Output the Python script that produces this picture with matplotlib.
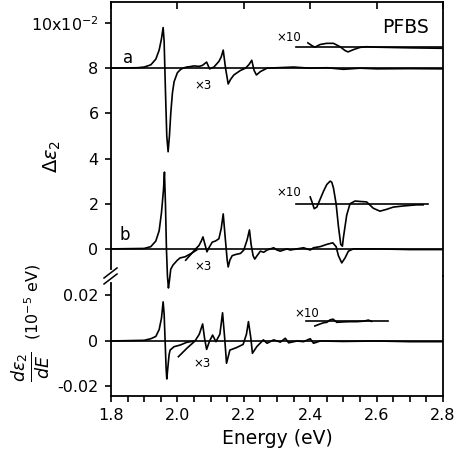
import matplotlib.pyplot as plt
from matplotlib.lines import Line2D
from matplotlib.ticker import MultipleLocator

plt.rcParams['font.family'] = ['DejaVu Sans']
plt.rcParams['mathtext.fontset'] = 'dejavusans'

# --- data (axis units) ---
# curve a (offset 8), x1
a_E = [1.80, 1.88, 1.90, 1.92, 1.935, 1.945, 1.952, 1.957, 1.960, 1.964, 1.968, 1.972,
       1.976, 1.980, 1.985, 1.990, 2.000, 2.010, 2.020, 2.030]
a_v = [8.0, 8.02, 8.05, 8.15, 8.4, 8.8, 9.3, 9.8, 9.2, 7.0, 5.0, 4.3,
       5.0, 6.0, 6.9, 7.4, 7.8, 7.95, 8.02, 8.05]
# curve a, x3
a3_E = [2.030, 2.050, 2.065, 2.075, 2.082, 2.088, 2.093, 2.097, 2.110, 2.125, 2.132, 2.138,
        2.145, 2.153, 2.160, 2.170, 2.190, 2.205, 2.215, 2.224, 2.231, 2.238, 2.250, 2.270,
        2.300, 2.350, 2.400, 2.450, 2.500, 2.550, 2.600, 2.700, 2.800]
a3_v = [8.05, 8.1, 8.08, 8.12, 8.2, 8.27, 8.1, 7.97, 8.05, 8.3, 8.5, 8.8,
        8.0, 7.3, 7.5, 7.7, 7.9, 8.0, 8.15, 8.35, 7.9, 7.7, 7.85, 8.0,
        8.02, 8.05, 8.0, 8.02, 7.95, 8.0, 7.97, 7.98, 7.97]
# curve a, x10
a10_E = [2.393, 2.405, 2.414, 2.430, 2.450, 2.470, 2.490, 2.505, 2.514, 2.530, 2.550,
         2.570, 2.600, 2.700, 2.800]
a10_v = [9.12, 9.0, 8.93, 9.05, 9.1, 9.1, 8.95, 8.78, 8.72, 8.82, 8.92,
         8.95, 8.93, 8.9, 8.88]

# curve b (offset 0), x1
b_E = [1.80, 1.90, 1.92, 1.935, 1.945, 1.952, 1.958, 1.961, 1.964, 1.967, 1.970, 1.973,
       1.976, 1.980, 1.987, 2.000, 2.008, 2.023, 2.043, 2.058]
b_v = [0.0, 0.02, 0.1, 0.35, 0.8, 1.6, 2.6, 3.4, 2.0, 0.0, -1.2, -1.73,
       -1.4, -0.9, -0.71, -0.5, -0.4, -0.35, -0.19, -0.05]
# curve b, x3
b3_E = [2.025, 2.040, 2.055, 2.065, 2.072, 2.077, 2.083, 2.089, 2.095, 2.105, 2.115, 2.125,
        2.132, 2.138, 2.144, 2.150, 2.153, 2.158, 2.165, 2.175, 2.190, 2.200, 2.210, 2.217,
        2.222, 2.228, 2.233, 2.240, 2.250, 2.260, 2.270, 2.280, 2.290, 2.300, 2.310, 2.320,
        2.330, 2.340, 2.360, 2.380, 2.390, 2.400, 2.410, 2.430, 2.450, 2.468, 2.478, 2.485,
        2.495, 2.505, 2.515, 2.530, 2.600, 2.700, 2.800]
b3_v = [-0.5, -0.25, 0.0, 0.15, 0.35, 0.53, 0.2, -0.13, 0.05, 0.3, 0.35, 0.45,
        0.9, 1.55, 0.5, -0.5, -0.8, -0.5, -0.3, -0.25, -0.2, -0.05, 0.4, 0.84,
        0.2, -0.3, -0.45, -0.3, -0.1, -0.15, -0.05, 0.0, 0.05, -0.05, -0.1, -0.05,
        0.0, -0.05, 0.0, 0.05, 0.0, -0.05, 0.05, 0.1, 0.2, 0.27, 0.1, -0.3,
        -0.62, -0.4, -0.1, 0.0, 0.0, -0.03, -0.03]
# curve b, x10
b10_E = [2.400, 2.405, 2.412, 2.420, 2.430, 2.440, 2.450, 2.460, 2.465, 2.470, 2.478, 2.485,
         2.492, 2.497, 2.500, 2.510, 2.520, 2.535, 2.550, 2.570, 2.590, 2.610, 2.630, 2.650,
         2.680, 2.720, 2.740]
b10_v = [2.3, 2.1, 1.78, 1.85, 2.2, 2.55, 2.85, 3.0, 2.95, 2.7, 2.0, 1.0,
         0.2, 0.12, 0.5, 1.5, 2.0, 2.12, 2.1, 2.08, 1.8, 1.67, 1.75, 1.85,
         1.9, 1.95, 1.95]

# derivative, x1
d_E = [1.80, 1.90, 1.92, 1.935, 1.945, 1.952, 1.957, 1.960, 1.963, 1.966, 1.968, 1.971,
       1.975, 1.978, 1.990, 2.008, 2.028, 2.050]
d_v = [0.0, 0.0003, 0.001, 0.002, 0.005, 0.01, 0.0172, 0.012, 0.0, -0.012, -0.0167, -0.012,
       -0.006, -0.004, -0.0025, -0.0018, -0.0006, 0.0]
# derivative, x3
d3_E = [2.003, 2.030, 2.053, 2.066, 2.076, 2.082, 2.088, 2.097, 2.106, 2.116, 2.128, 2.136,
        2.142, 2.148, 2.158, 2.178, 2.198, 2.208, 2.214, 2.221, 2.226, 2.239, 2.259, 2.270,
        2.290, 2.310, 2.325, 2.335, 2.360, 2.380, 2.400, 2.410, 2.430, 2.500, 2.600, 2.700,
        2.800]
d3_v = [-0.0069, -0.003, 0.0, 0.003, 0.0075, 0.001, -0.0037, 0.0, 0.0026, -0.0003, 0.003, 0.0124,
        0.002, -0.0098, -0.004, -0.0029, -0.0015, 0.003, 0.0085, 0.0015, -0.0054, -0.0025, 0.0005, -0.001,
        0.0005, -0.0005, 0.0012, -0.0008, 0.0, -0.0003, 0.001, -0.001, 0.0, -0.0002, 0.0, -0.0003,
        -0.0003]
# derivative, x10
d10_E = [2.414, 2.430, 2.440, 2.450, 2.460, 2.469, 2.480, 2.500, 2.520, 2.540, 2.560, 2.570,
         2.575, 2.585]
d10_v = [0.0066, 0.0075, 0.008, 0.0082, 0.0093, 0.0096, 0.0082, 0.0084, 0.0085, 0.0085, 0.0087, 0.009,
         0.0092, 0.0086]

# horizontal reference lines: (y, x_start, x_end)
a_base = (8.0, 1.8, 2.8)
a10_base = (8.92, 2.357, 2.8)
b_base = (0.0, 1.8, 2.8)
b10_base = (2.0, 2.357, 2.755)
d_base = (0.0, 1.8, 2.8)
d10_base = (0.0088, 2.387, 2.634)

W, H = 458, 463
fig = plt.figure(figsize=(W / 100, H / 100), dpi=100)

def fx(px):
    return px / W

def fy(py):
    return 1 - py / H

x0, x1 = 111, 443
ax = fig.add_axes([fx(x0), fy(276), fx(x1 - x0), (276 - 2) / H])
ax2 = fig.add_axes([fx(x0), fy(396), fx(x1 - x0), (396 - 276) / H], sharex=ax)

lw = 1.2
k = 'black'
for a_ in (ax, ax2):
    a_.set_facecolor('none')
    for s in a_.spines.values():
        s.set_linewidth(1.3)

# upper panel
for (y, xs, xe) in (a_base, a10_base, b_base, b10_base):
    ax.plot([xs, xe], [y, y], color=k, lw=lw)
ax.plot(a_E, a_v, color=k, lw=lw)
ax.plot(a3_E, a3_v, color=k, lw=lw)
ax.plot(a10_E, a10_v, color=k, lw=lw)
ax.plot(b_E, b_v, color=k, lw=lw, clip_on=False)
ax.plot(b3_E, b3_v, color=k, lw=lw)
ax.plot(b10_E, b10_v, color=k, lw=lw)

ax.set_xlim(1.8, 2.8)
ax.set_ylim(-1.2, 10.93)
ax.set_yticks([0, 2, 4, 6, 8, 10])
ax.set_yticklabels(['0', '2', '4', '6', '8', '10x10$^{-2}$'])
ax.spines['bottom'].set_visible(False)
ax.spines['left'].set_bounds(-0.89, 10.93)
ax.tick_params(axis='y', direction='out', length=4, width=1.2, labelsize=11.5, pad=5)
ax.tick_params(axis='x', which='both', bottom=False, labelbottom=False,
               top=True, direction='in', length=5, width=1.2)
ax.set_xticks([2.0, 2.2, 2.4, 2.6])
ax.tick_params(axis='x', which='minor', top=False)

ax.text(2.758, 9.82, 'PFBS', fontsize=13.5, ha='right', va='center')
ax.text(1.85, 8.45, 'a', fontsize=12, ha='center', va='center')
ax.text(1.842, 0.6, 'b', fontsize=12, ha='center', va='center')
ax.text(2.078, 7.25, '×3', fontsize=8.5, ha='center', va='center')
ax.text(2.078, -0.8, '×3', fontsize=8.5, ha='center', va='center')
ax.text(2.336, 9.38, '×10', fontsize=8.5, ha='center', va='center')
ax.text(2.336, 2.5, '×10', fontsize=8.5, ha='center', va='center')

# lower panel
for (y, xs, xe) in (d_base, d10_base):
    ax2.plot([xs, xe], [y, y], color=k, lw=lw)
ax2.plot(d_E, d_v, color=k, lw=lw)
ax2.plot(d3_E, d3_v, color=k, lw=lw)
ax2.plot(d10_E, d10_v, color=k, lw=lw)
ax2.set_ylim(-0.02418, 0.02857)
ax2.set_yticks([-0.02, 0, 0.02])
ax2.set_yticklabels(['-0.02', '0', '0.02'])
ax2.spines['top'].set_visible(False)
ax2.spines['left'].set_bounds(-0.02418, 0.0255)
ax2.set_xticks([1.8, 2.0, 2.2, 2.4, 2.6, 2.8])
ax2.xaxis.set_minor_locator(MultipleLocator(0.05))
ax2.tick_params(axis='y', direction='out', length=4, width=1.2, labelsize=11.5, pad=5)
ax2.tick_params(axis='x', which='both', direction='out', length=4, width=1.2,
                labelsize=11.5, pad=5, top=False)
ax2.text(2.39, 0.0123, '×10', fontsize=8.5, ha='center', va='center')
ax2.text(2.074, -0.0097, '×3', fontsize=8.5, ha='center', va='center')
ax2.set_xlabel('Energy (eV)', fontsize=13.5, labelpad=4)

# axis break marks on the left spine
for dy in (0, 6):
    fig.add_artist(Line2D([fx(104), fx(117)], [fy(278 + dy), fy(268 + dy)],
                          color=k, lw=1.1))

# y labels
fig.text(fx(52), fy(156), r'$\Delta\varepsilon_2$', rotation=90, fontsize=14,
         ha='center', va='center')
fig.text(fx(33), fy(302), '(10$^{-5}$ eV)', rotation=90, fontsize=11.5,
         ha='center', va='center')
fig.text(fx(31), fy(367), r'$\frac{d\varepsilon_2}{dE}$', rotation=90, fontsize=18,
         ha='center', va='center')

fig.savefig('out.png', dpi=100)
